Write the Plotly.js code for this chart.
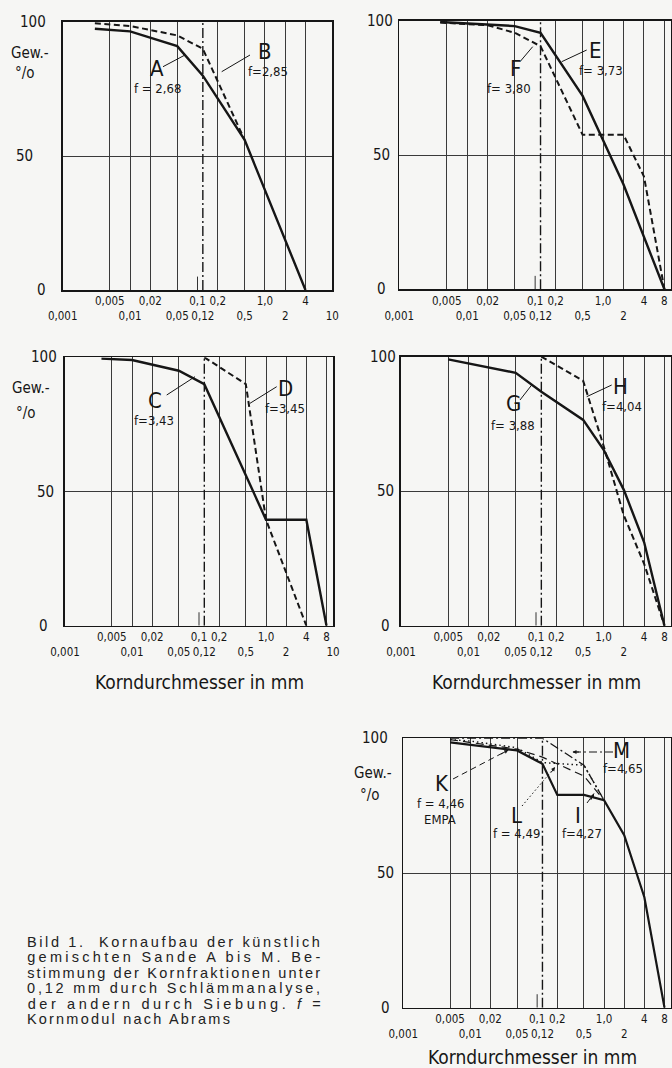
<!DOCTYPE html>
<html>
<head>
<meta charset="utf-8">
<script src="https://cdn.plot.ly/plotly-3.0.1.min.js"></script>
<style>
  html, body { margin: 0; padding: 0; background: #f6f6f4; }
  #chart { width: 672px; height: 1068px; }
</style>
</head>
<body>
<div id="chart"></div>
<script>
// ---------------- data ----------------
const X_TICK_VALUES = [0.001, 0.005, 0.01, 0.02, 0.05, 0.1, 0.12, 0.2, 0.5, 1, 2, 4, 8, 10];
const X_TICK_LABELS = ['0,001', '0,005', '0,01', '0,02', '0,05', '0,1', '0,12', '0,2', '0,5', '1,0', '2', '4', '8', '10'];
const X_UPPER_ROW = [0.005, 0.02, 0.1, 0.2, 1, 4, 8];
const GRID_TO_4 = [0.005, 0.01, 0.02, 0.05, 0.2, 0.5, 1, 2, 4];
const GRID_TO_8 = [0.005, 0.01, 0.02, 0.05, 0.2, 0.5, 1, 2, 4, 8];
const Y_TICKS = [0, 50, 100];
const Y_TICK_LABELS = ['0', '50', '100'];
const BOUNDARY_D = [0.12, 0.12];     // Schlämmanalyse / Siebung
const BOUNDARY_P = [0, 100];
const MARK_D = [0.1, 0.1];
const MARK_P = [0, 5];

// Sand A / B
const sandA_d = [0.003, 0.01, 0.05, 0.12, 0.5, 4];
const sandA_p = [97.5, 96.5, 91, 80, 56, 0];
const sandB_d = [0.003, 0.01, 0.05, 0.12, 0.5];
const sandB_p = [99.5, 98.5, 95, 90, 56];
// Sand E / F
const sandE_d = [0.004, 0.05, 0.12, 0.5, 2, 8];
const sandE_p = [99.5, 98, 95.5, 72, 39, 0];
const sandF_d = [0.004, 0.02, 0.05, 0.12, 0.5, 2, 4, 8];
const sandF_p = [99.3, 98.3, 95.5, 90.5, 57.5, 57.5, 42, 0];
// Sand C / D
const sandC_d = [0.0035, 0.01, 0.05, 0.12, 1, 4, 8];
const sandC_p = [99.5, 99, 95, 90, 39.5, 39.5, 0];
const sandD_d = [0.12, 0.5, 1, 4];
const sandD_p = [100, 90, 39.5, 0];
// Sand G / H
const sandG_d = [0.005, 0.05, 0.12, 0.5, 1, 2, 4, 8];
const sandG_p = [99, 94, 87, 76.5, 65.5, 50.5, 31, 0];
const sandH_d = [0.12, 0.5, 1, 2, 4, 8];
const sandH_p = [100, 91, 67, 41, 23, 0];
// Sand I / K / L / M
const sandI_d = [0.005, 0.05, 0.12, 0.2, 0.5, 1, 2, 4, 8];
const sandI_p = [98.5, 95.5, 90.5, 79, 79, 77, 64, 41, 0];
const sandK_d = [0.005, 0.05, 0.12, 0.5, 1];
const sandK_p = [99.5, 96, 93, 86, 77];
const sandL_d = [0.005, 0.01, 0.05, 0.12, 0.5, 1];
const sandL_p = [99.5, 99, 96.5, 91, 90, 77];
const sandM_d = [0.005, 0.12, 0.5, 1];
const sandM_p = [100, 100, 90, 77];

const CAPTION_LINES = [
  'Bild 1.  Kornaufbau der künstlich',
  'gemischten Sande A bis M. Be-',
  'stimmung der Kornfraktionen unter',
  '0,12 mm durch Schlämmanalyse,',
  'der andern durch Siebung. <i>f</i> =',
  'Kornmodul nach Abrams'
];

// ---------------- layout helpers ----------------
const W = 672, H = 1068;
const px = x => x / W;
const py = y => 1 - y / H;
const INK = '#161616';
const FONT = '"Liberation Sans Narrow", "DejaVu Sans Condensed", Roboto, "Liberation Sans", sans-serif';
const CAPFONT = '"Liberation Sans", Arial, sans-serif';

// panel frames in pixels: [left, right, top, bottom]
const FRAMES = [
  [62.7, 332.3, 22, 290],
  [399.3, 671, 20.7, 289.3],
  [65, 333, 357.3, 625.7],
  [401, 671, 356.7, 625.7],
  [403.3, 671, 738.3, 1007.7]
];

const tickText = X_TICK_VALUES.map((v, i) =>
  X_UPPER_ROW.indexOf(v) >= 0 ? X_TICK_LABELS[i] : ' <br>' + X_TICK_LABELS[i]);

function xAxis(f, n, grid, with8) {
  const vals = [], txt = [];
  X_TICK_VALUES.forEach((v, i) => {
    if (v === 8 && !with8) return;
    vals.push(v); txt.push(tickText[i]);
  });
  return {
    type: 'log', range: [-3, 1], domain: [px(f[0]), px(f[1])], anchor: 'y' + (n === 1 ? '' : n),
    showgrid: false, zeroline: false, showline: true, mirror: true, linecolor: INK, linewidth: 1.6,
    ticks: '', tickmode: 'array', tickvals: vals, ticktext: txt,
    tickfont: { family: FONT, size: 11.5, color: INK }, tickangle: 0,
    minor: { tickmode: 'array', tickvals: grid, showgrid: true, gridcolor: '#3a3a3a', gridwidth: 1, ticks: '' },
    fixedrange: true
  };
}
function yAxis(f, n) {
  return {
    range: [0, 100], domain: [py(f[3]), py(f[2])], anchor: 'x' + (n === 1 ? '' : n),
    tickmode: 'array', tickvals: Y_TICKS, showticklabels: false, ticks: '',
    showgrid: true, gridcolor: '#3a3a3a', gridwidth: 1, zeroline: false,
    showline: true, mirror: true, linecolor: INK, linewidth: 1.6, fixedrange: true
  };
}

function line(xs, ys, n, style) {
  return Object.assign({
    type: 'scatter', mode: 'lines', x: xs, y: ys,
    xaxis: 'x' + (n === 1 ? '' : n), yaxis: 'y' + (n === 1 ? '' : n),
    hoverinfo: 'skip', showlegend: false
  }, { line: style });
}
const SOLID = { color: INK, width: 2.4 };
const DASHED = { color: INK, width: 2, dash: '6px,3.5px' };
const BOUND = { color: INK, width: 1.4, dash: '10px,3px,2px,3px' };
const MARK = { color: '#333', width: 1 };

const data = [];
for (let n = 1; n <= 5; n++) {
  data.push(line(BOUNDARY_D, BOUNDARY_P, n, BOUND));
  data.push(line(MARK_D, MARK_P, n, MARK));
}
data.push(line(sandB_d, sandB_p, 1, DASHED));
data.push(line(sandA_d, sandA_p, 1, SOLID));
data.push(line(sandF_d, sandF_p, 2, DASHED));
data.push(line(sandE_d, sandE_p, 2, SOLID));
data.push(line(sandD_d, sandD_p, 3, DASHED));
data.push(line(sandC_d, sandC_p, 3, SOLID));
data.push(line(sandH_d, sandH_p, 4, DASHED));
data.push(line(sandG_d, sandG_p, 4, SOLID));
data.push(line(sandK_d, sandK_p, 5, { color: INK, width: 1.2, dash: '8px,5px' }));
data.push(line(sandL_d, sandL_p, 5, { color: INK, width: 1.4, dash: '1.5px,3px' }));
data.push(line(sandM_d, sandM_p, 5, { color: INK, width: 1.3, dash: '9px,3px,2px,3px' }));
data.push(line(sandI_d, sandI_p, 5, { color: INK, width: 2.2 }));

// ---------------- annotations ----------------
const ann = [];
function txt(text, x, y, size, extra) {
  ann.push(Object.assign({
    text: text, xref: 'paper', yref: 'paper', x: px(x), y: py(y),
    xanchor: 'center', yanchor: 'middle', showarrow: false,
    font: { family: FONT, size: size, color: INK }
  }, extra || {}));
}
// y tick labels: [x for 0, 50, 100]
const Y_LABEL_X = [[41.5, 24, 32.5], [381.7, 381.7, 380], [43, 45, 44], [385, 385, 383.3], [385.8, 385, 375]];
Y_LABEL_X.forEach((xs, k) => {
  Y_TICKS.forEach((v, i) => {
    ann.push({
      text: Y_TICK_LABELS[i], xref: 'paper', yref: 'y' + (k === 0 ? '' : k + 1), x: px(xs[i]), y: v,
      xanchor: 'center', yanchor: 'middle', showarrow: false,
      font: { family: FONT, size: 15, color: INK }
    });
  });
});
// Gew.-% labels
[[30, 53.3, 25, 73.3], [31.3, 388.3, 25.8, 413.3], [372.5, 773.3, 370, 795]].forEach(g => {
  txt('Gew.-', g[0], g[1], 15);
  txt('°/o', g[2], g[3], 15);
});
// axis titles
txt('Korndurchmesser in mm', 199, 682, 19);
txt('Korndurchmesser in mm', 536.5, 682, 19);
txt('Korndurchmesser in mm', 532.5, 1056.5, 19);

// curve labels
const BIG = 22, SMALL = 13;
txt('A', 156.7, 68.3, BIG); txt('f = 2,68', 157.5, 88.3, SMALL);
txt('B', 265, 51.7, BIG); txt('f=2,85', 267.5, 71.7, SMALL);
txt('E', 595, 50, BIG); txt('f= 3,73', 600.8, 70, SMALL);
txt('F', 515, 68.3, BIG); txt('f= 3,80', 509, 88.3, SMALL);
txt('C', 155, 400, BIG); txt('f=3,43', 154, 420, SMALL);
txt('D', 285, 388.3, BIG); txt('f=3,45', 285, 408.3, SMALL);
txt('G', 513.3, 403.3, BIG); txt('f= 3,88', 512.5, 425, SMALL);
txt('H', 620, 386.7, BIG); txt('f=4,04', 621.7, 406.7, SMALL);
txt('K', 441.7, 783.3, BIG); txt('f = 4,46', 440, 803.3, SMALL); txt('EMPA', 440, 819, SMALL);
txt('L', 516.7, 815, BIG); txt('f = 4,49', 516.7, 833.3, SMALL);
txt('I', 578.3, 815, BIG); txt('f=4,27', 581.7, 833.3, SMALL);
txt('M', 621.7, 750, BIG); txt('f=4,65', 623.3, 768.3, SMALL);

// small arrow heads (panel 5)
function head(x, y, ax, ay) {
  ann.push({ text: '', xref: 'paper', yref: 'paper', x: px(x), y: py(y), ax: ax, ay: ay,
    showarrow: true, arrowhead: 2, arrowsize: 0.8, arrowwidth: 1, arrowcolor: INK, standoff: 0 });
}
head(508.3, 750, -9, 5);
head(572.5, 752, 8, 0);
head(594, 793.5, -4, 8);
head(555, 767, -5, 7);

// caption
const CAP_Y = [941.7, 957.2, 972.7, 988, 1003.5, 1019];
const CAP_FIT = [293, 293, 293, 293, 293, 203];
CAPTION_LINES.forEach((t, i) => {
  const w = CAP_FIT[i];
  ann.push({ text: t, xref: 'paper', yref: 'paper', x: px(27 + w / 2), y: py(CAP_Y[i]),
    xanchor: 'center', yanchor: 'middle', showarrow: false,
    font: { family: CAPFONT, size: 14.5, color: '#222' } });
});

// ---------------- leader lines ----------------
const shapes = [];
function lead(x0, y0, x1, y1, dash) {
  shapes.push({ type: 'line', xref: 'paper', yref: 'paper', x0: px(x0), y0: py(y0), x1: px(x1), y1: py(y1),
    line: { color: INK, width: 1, dash: dash || 'solid' } });
}
lead(163, 66.7, 185, 55);
lead(250, 55, 221.7, 71.7);
lead(586.7, 50, 561.7, 61.7);
lead(520, 61.7, 532.7, 46.7);
lead(166.7, 395, 195, 376.7);
lead(276.7, 386.7, 250, 403.3);
lead(520, 400, 531.7, 385);
lead(611.7, 385, 586.7, 396.7);
lead(453, 779, 508.3, 750, '6px,4px');
lead(522, 806, 555, 767, '1.5px,2.5px');
lead(613, 752, 572.5, 752, '8px,3px,2px,3px');
lead(587, 803, 594, 793.5);

const layout = {
  width: W, height: H, margin: { l: 0, r: 0, t: 0, b: 0 },
  paper_bgcolor: '#f6f6f4', plot_bgcolor: '#f6f6f4',
  showlegend: false, annotations: ann, shapes: shapes
};
FRAMES.forEach((f, k) => {
  const n = k + 1, s = n === 1 ? '' : n;
  layout['xaxis' + s] = xAxis(f, n, n === 1 ? GRID_TO_4 : GRID_TO_8, n !== 1);
  layout['yaxis' + s] = yAxis(f, n);
});

Plotly.newPlot('chart', data, layout, { staticPlot: true, displayModeBar: false }).then(gd => {
  gd.querySelectorAll('text.annotation-text').forEach(t => {
    const u = t.getAttribute('data-unformatted');
    const i = CAPTION_LINES.indexOf(u);
    if (i >= 0) {
      t.setAttribute('textLength', CAP_FIT[i]);
      t.setAttribute('lengthAdjust', 'spacing');
    }
  });
});
</script>
</body>
</html>
